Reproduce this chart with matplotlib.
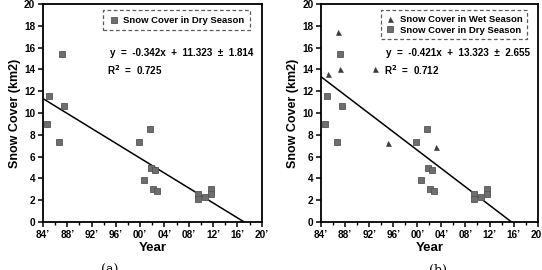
import matplotlib.pyplot as plt
from matplotlib.ticker import MultipleLocator

plt.rcParams['font.family'] = ['Liberation Sans', 'DejaVu Sans']
plt.rcParams['font.weight'] = 'bold'

# dry season snow cover (both panels)
dry_year = [1984.6, 1985.0, 1986.6, 1987.1, 1987.5, 1999.8, 2000.6, 2001.6, 2001.7,
            2002.1, 2002.5, 2002.8, 2009.5, 2009.5, 2010.6, 2011.6, 2011.6]
dry_area = [9.0, 11.55, 7.35, 15.45, 10.6, 7.3, 3.85, 8.5, 4.95,
            3.0, 4.8, 2.8, 2.6, 2.1, 2.3, 3.0, 2.6]

# wet season snow cover (panel b)
wet_year = [1985.2, 1986.8, 1987.2, 1992.9, 1995.2, 2003.1]
wet_area = [13.55, 17.4, 14.0, 14.0, 7.2, 6.9]

# fitted lines: y = slope * (year - 1984) + intercept
fit_a = (-0.342, 11.323)
fit_b = (-0.421, 13.323)

xticks = [1984, 1988, 1992, 1996, 2000, 2004, 2008, 2012, 2016, 2020]
xlabels = ["84’", "88’", "92’", "96’", "00’", "04’", "08’", "12’", "16’", "20’"]

fig = plt.figure(figsize=(5.42, 2.70), dpi=100)
ax_a = fig.add_axes([0.0793, 0.178, 0.4035, 0.807])
ax_b = fig.add_axes([0.5923, 0.178, 0.3997, 0.807])


def style(ax):
    ax.set_xlim(1984, 2020)
    ax.set_ylim(0, 20)
    ax.set_xticks(xticks)
    ax.set_xticklabels(xlabels)
    ax.xaxis.set_minor_locator(MultipleLocator(2))
    ax.set_yticks(range(0, 21, 2))
    ax.tick_params(axis='both', which='major', direction='out', length=3.5,
                   width=1.1, labelsize=7.2, pad=2)
    ax.tick_params(axis='x', which='minor', direction='out', length=2.5, width=1.0)
    for lbl in ax.get_xticklabels() + ax.get_yticklabels():
        lbl.set_fontweight('bold')
    for s in ax.spines.values():
        s.set_linewidth(1.3)
    ax.set_xlabel('Year', fontsize=9.5, fontweight='bold', labelpad=1.5)
    ax.set_ylabel('Snow Cover (km2)', fontsize=9, fontweight='bold', labelpad=2)


def fit_line(ax, fit):
    slope, icpt = fit
    x_end = 1984 - icpt / slope
    ax.plot([1984, x_end], [icpt, 0], color='black', lw=1.1, zorder=2)


def eq_text(ax, fit, err, r2, x):
    slope, icpt = fit
    ax.text(x, 0.775, f'y  =  {slope:.3f}x  +  {icpt:.3f}  ±  {err:.3f}',
            transform=ax.transAxes, fontsize=7.1, fontweight='bold', va='center')
    ax.text(x - 0.01, 0.697, f'R$^\\mathbf{{2}}$  =  {r2:.3f}',
            transform=ax.transAxes, fontsize=7.1, fontweight='bold', va='center')


sq = dict(marker='s', ls='none', ms=4.3, mfc='#6e6e6e', mec='#555555', mew=0.6)
tri = dict(marker='^', ls='none', ms=3.6, mfc='#3a3a3a', mec='#3a3a3a', mew=0.4)

# (a)
style(ax_a)
fit_line(ax_a, fit_a)
ax_a.plot(dry_year, dry_area, label='Snow Cover in Dry Season', zorder=3, **sq)
leg = ax_a.legend(loc='upper right', bbox_to_anchor=(0.946, 0.972), fontsize=6.8,
                  frameon=True, fancybox=False, handlelength=1.0, handletextpad=0.5,
                  borderpad=0.6, borderaxespad=0)
leg.get_frame().set_linestyle((0, (3, 2)))
leg.get_frame().set_edgecolor('#333333')
leg.get_frame().set_linewidth(0.9)
eq_text(ax_a, fit_a, 1.814, 0.725, 0.305)

# (b)
style(ax_b)
fit_line(ax_b, fit_b)
ax_b.plot(wet_year, wet_area, label='Snow Cover in Wet Season', zorder=3, **tri)
ax_b.plot(dry_year, dry_area, label='Snow Cover in Dry Season', zorder=3, **sq)
leg = ax_b.legend(loc='upper right', bbox_to_anchor=(0.951, 0.972), fontsize=6.8,
                  frameon=True, fancybox=False, handlelength=1.0, handletextpad=0.5,
                  borderpad=0.5, labelspacing=0.2, borderaxespad=0)
leg.get_frame().set_linestyle((0, (3, 2)))
leg.get_frame().set_edgecolor('#333333')
leg.get_frame().set_linewidth(0.9)
eq_text(ax_b, fit_b, 2.655, 0.712, 0.30)

fig.text(0.203, -0.025, '(a)', fontsize=9, fontweight='normal', family='DejaVu Serif',
         ha='center', va='bottom')
fig.text(0.808, -0.025, '(b)', fontsize=9, fontweight='normal', family='DejaVu Serif',
         ha='center', va='bottom')

fig.savefig('out.png', dpi=100)
